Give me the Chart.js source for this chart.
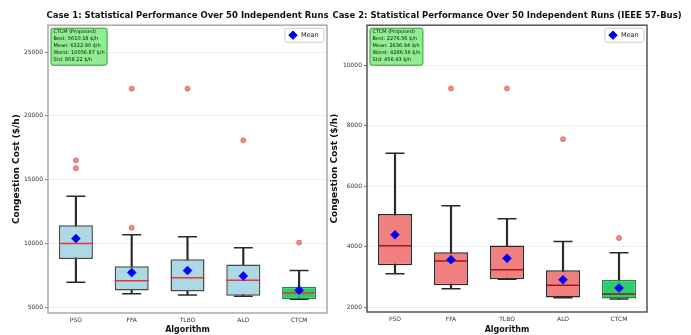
<!DOCTYPE html>
<html>
<head>
<meta charset="utf-8">
<script src="https://cdn.jsdelivr.net/npm/chart.js@4.4.0/dist/chart.umd.min.js"></script>
<style>
html, body { margin: 0; padding: 0; background: #fff; }
#wrap { position: relative; width: 691px; height: 335px; overflow: hidden; }
#case1 { position: absolute; left: 0; top: 0; }
#case2 { position: absolute; left: 328px; top: 0; }
</style>
</head>
<body>
<div id="wrap">
<canvas id="case1" width="375" height="335"></canvas>
<canvas id="case2" width="358" height="335"></canvas>
</div>
<script>
var algorithms = ["PSO", "FFA", "TLBO", "ALO", "CTCM"];

// Case 1 box stats ($/h)
var case1Min = [6940, 6050, 5940, 5840, 5610];
var case1Q1 = [8770, 6290, 6210, 5890, 5630];
var case1Median = [9980, 7070, 7300, 7100, 6100];
var case1Q3 = [11410, 8200, 8740, 8330, 6600];
var case1Max = [13690, 10680, 10520, 9660, 7860];
var case1Mean = [10370, 7700, 7860, 7430, 6323];
var case1Outliers = [[16510, 15890], [22140, 11230], [22140], [18080], [10057]];
var case1Ticks = [5000, 10000, 15000, 20000, 25000];
var case1Stats = ["CTCM (Proposed)", "Best: 5610.18 $/h", "Mean: 6322.90 $/h", "Worst: 10056.87 $/h", "Std: 808.22 $/h"];

// Case 2 box stats ($/h)
var case2Min = [3110, 2614, 2924, 2317, 2277];
var case2Q1 = [3386, 2726, 2930, 2320, 2290];
var case2Median = [4033, 3528, 3241, 2726, 2439];
var case2Q3 = [5079, 3815, 4046, 3221, 2911];
var case2Max = [7092, 5353, 4924, 4178, 3802];
var case2Mean = [4396, 3571, 3617, 2911, 2637];
var case2Outliers = [[], [9227], [9227], [7554], [4287]];
var case2Ticks = [2000, 4000, 6000, 8000, 10000];
var case2Stats = ["CTCM (Proposed)", "Best: 2276.56 $/h", "Mean: 2636.94 $/h", "Worst: 4286.56 $/h", "Std: 456.43 $/h"];

var FONT = "'DejaVu Sans', sans-serif";

function roundRect(ctx, x, y, w, h, r) {
	ctx.beginPath();
	ctx.moveTo(x + r, y);
	ctx.lineTo(x + w - r, y);
	ctx.quadraticCurveTo(x + w, y, x + w, y + r);
	ctx.lineTo(x + w, y + h - r);
	ctx.quadraticCurveTo(x + w, y + h, x + w - r, y + h);
	ctx.lineTo(x + r, y + h);
	ctx.quadraticCurveTo(x, y + h, x, y + h - r);
	ctx.lineTo(x, y + r);
	ctx.quadraticCurveTo(x, y, x + r, y);
	ctx.closePath();
}

// axes frame, "Mean" legend in the top right corner, green stats box
var decorations = {
	id : 'decorations',
	afterDraw : function(chart, args, opts) {
		var ctx = chart.ctx, a = chart.chartArea;
		ctx.save();
		ctx.strokeStyle = opts.frameColor;
		ctx.lineWidth = 1.5;
		ctx.strokeRect(a.left, a.top, a.right - a.left, a.bottom - a.top);

		// legend
		var meanSet = chart.data.datasets.filter(function(d) {
			return d.label === 'Mean';
		})[0];
		var lx = a.right - 42, ly = a.top + 3;
		roundRect(ctx, lx, ly, 39, 14, 2);
		ctx.fillStyle = 'rgba(255,255,255,0.9)';
		ctx.fill();
		ctx.strokeStyle = '#cccccc';
		ctx.lineWidth = 1;
		ctx.stroke();
		ctx.fillStyle = meanSet.pointBackgroundColor;
		ctx.strokeStyle = meanSet.pointBorderColor;
		Chart.helpers.drawPoint(ctx, { pointStyle : 'rectRot', radius : 4.2, borderWidth : 0.5 }, lx + 8, ly + 7);
		ctx.fillStyle = '#222';
		ctx.font = "6.5px " + FONT;
		ctx.textBaseline = 'middle';
		ctx.fillText(meanSet.label, lx + 16, ly + 7.5);

		// stats box
		var lines = opts.lines;
		ctx.font = "5px " + FONT;
		var w = 0;
		for (var i = 0; i < lines.length; i++) {
			w = Math.max(w, ctx.measureText(lines[i]).width);
		}
		var bx = a.left + 3, by = a.top + 3, bw = w + 5, bh = lines.length * 7 + 2;
		roundRect(ctx, bx, by, bw, bh, 2);
		ctx.fillStyle = '#90ee90';
		ctx.fill();
		ctx.strokeStyle = '#2e9e2e';
		ctx.lineWidth = 1;
		ctx.stroke();
		ctx.fillStyle = '#111';
		ctx.textBaseline = 'top';
		for (var j = 0; j < lines.length; j++) {
			ctx.fillText(lines[j], bx + 2.5, by + 1.5 + j * 7);
		}
		ctx.restore();
	}
};

function buildBoxChart(canvasId, c) {
	var whiskers = [], boxes = [], caps = [], medians = [], means = [], outs = [];
	var fills = [], borders = [];
	for (var i = 0; i < algorithms.length; i++) {
		var name = algorithms[i];
		whiskers.push([ c.min[i], c.max[i] ]);
		boxes.push([ c.q1[i], c.q3[i] ]);
		caps.push({ x : name, y : c.min[i] }, { x : name, y : c.max[i] });
		medians.push({ x : name, y : c.median[i] });
		means.push({ x : name, y : c.mean[i] });
		for (var j = 0; j < c.outliers[i].length; j++) {
			outs.push({ x : name, y : c.outliers[i][j] });
		}
		var isOurs = (name === "CTCM");
		fills.push(isOurs ? '#2ecc71' : c.boxFill);
		borders.push(isOurs ? '#1f8a3c' : c.boxBorder);
	}

	return new Chart(document.getElementById(canvasId), {
		type : 'bar',
		data : {
			labels : algorithms,
			datasets : [ {
				label : 'whisker',
				data : whiskers,
				backgroundColor : '#2a2a2a',
				barThickness : 1.5,
				grouped : false,
				order : 6
			}, {
				type : 'line',
				label : 'cap',
				data : caps,
				showLine : false,
				pointStyle : 'line',
				pointRadius : 9.5,
				pointBorderWidth : 1.5,
				pointBorderColor : '#2a2a2a',
				order : 5
			}, {
				label : 'box',
				data : boxes,
				backgroundColor : fills,
				borderColor : borders,
				borderWidth : 1.5,
				borderSkipped : false,
				barPercentage : 0.61,
				categoryPercentage : 1,
				grouped : false,
				order : 4
			}, {
				type : 'line',
				label : 'median',
				data : medians,
				showLine : false,
				pointStyle : 'line',
				pointRadius : 17,
				pointBorderWidth : 1.5,
				pointBorderColor : c.medianColor,
				order : 3
			}, {
				type : 'line',
				label : 'outlier',
				data : outs,
				showLine : false,
				pointStyle : 'circle',
				pointRadius : 2.5,
				pointBackgroundColor : 'rgba(235,120,120,0.85)',
				pointBorderColor : 'rgba(205,90,90,0.9)',
				pointBorderWidth : 0.8,
				order : 2
			}, {
				type : 'line',
				label : 'Mean',
				data : means,
				showLine : false,
				pointStyle : 'rectRot',
				pointRadius : 4.5,
				pointBackgroundColor : '#0000ff',
				pointBorderColor : '#0000cc',
				pointBorderWidth : 0.5,
				order : 1
			} ]
		},
		options : {
			responsive : false,
			animation : false,
			events : [],
			layout : { padding : 0 },
			plugins : {
				title : {
					display : true,
					text : c.title,
					fullSize : true,
					color : '#111',
					font : { family : FONT, size : 8.5, weight : 'bold' },
					padding : { top : 11, bottom : 4 }
				},
				legend : { display : false },
				tooltip : { enabled : false },
				decorations : { frameColor : c.frameColor, lines : c.stats }
			},
			scales : {
				x : {
					offset : true,
					grid : { display : false, drawTicks : false },
					border : { display : false },
					ticks : { color : '#333', padding : 4, font : { family : FONT, size : 6 } },
					title : {
						display : true,
						text : 'Algorithm',
						color : '#111',
						font : { family : FONT, size : 8, weight : 'bold' },
						padding : { top : 0, bottom : 0 }
					},
					afterFit : function(scale) {
						scale.height = c.xHeight;
					}
				},
				y : {
					min : c.yMin,
					max : c.yMax,
					afterBuildTicks : function(scale) {
						scale.ticks = c.ticks.map(function(v) {
							return { value : v };
						});
					},
					grid : { color : '#ececec', lineWidth : 0.8, tickLength : 3, tickColor : '#555' },
					border : { display : false },
					ticks : {
						color : '#333',
						padding : 2,
						font : { family : FONT, size : 6 },
						callback : function(v) {
							return String(v);
						}
					},
					title : {
						display : true,
						text : 'Congestion Cost ($/h)',
						color : '#111',
						font : { family : FONT, size : 9, weight : 'bold' },
						padding : { top : c.yTitlePad, bottom : 0 }
					},
					afterFit : function(scale) {
						scale.width = c.yWidth;
					}
				},
				// empty right-side scale, only keeps the gap so the title stays centred on the axes
				gap : {
					type : 'linear',
					position : 'right',
					display : true,
					grid : { display : false, drawTicks : false },
					border : { display : false },
					ticks : { display : false },
					afterFit : function(scale) {
						scale.width = c.rightGap;
					}
				}
			}
		},
		plugins : [ decorations ]
	});
}

buildBoxChart("case1", {
	title : "Case 1: Statistical Performance Over 50 Independent Runs",
	min : case1Min, q1 : case1Q1, median : case1Median, q3 : case1Q3, max : case1Max,
	mean : case1Mean, outliers : case1Outliers, ticks : case1Ticks, stats : case1Stats,
	yMin : 4530, yMax : 27120,
	boxFill : '#add8e6', boxBorder : '#4a4a4a', medianColor : '#ee3333',
	frameColor : '#a8a8a8',
	yWidth : 48, yTitlePad : 11.5, xHeight : 22, rightGap : 48
});

buildBoxChart("case2", {
	title : "Case 2: Statistical Performance Over 50 Independent Runs (IEEE 57-Bus)",
	min : case2Min, q1 : case2Q1, median : case2Median, q3 : case2Q3, max : case2Max,
	mean : case2Mean, outliers : case2Outliers, ticks : case2Ticks, stats : case2Stats,
	yMin : 1845, yMax : 11320,
	boxFill : '#f08080', boxBorder : '#2a2a2a', medianColor : '#a51515',
	frameColor : '#555555',
	yWidth : 39, yTitlePad : 1.5, xHeight : 23, rightGap : 39
});
</script>
</body>
</html>
